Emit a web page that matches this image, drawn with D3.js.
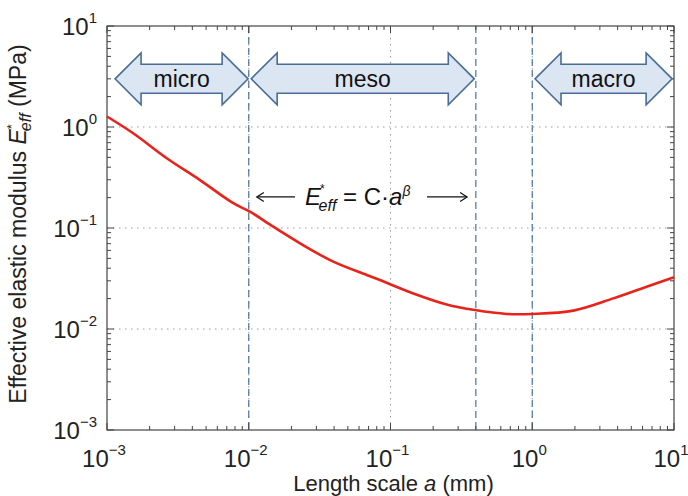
<!DOCTYPE html>
<meta charset="utf-8">
<title>Effective elastic modulus vs length scale</title>
<style>
    body { margin: 0; background: #fff; }
    svg { font-family: "Liberation Sans", Arial, sans-serif; }
</style>
<body>
<script src="https://cdnjs.cloudflare.com/ajax/libs/d3/7.8.5/d3.min.js"></script>
<script>
    // curve: length scale a (mm) -> E*eff (MPa)
    var lengthScale = [0.001, 0.00153, 0.00264, 0.00453, 0.00778, 0.0102, 0.0149, 0.023, 0.0395, 0.0679,
        0.0843, 0.145, 0.249, 0.394, 0.66, 1.0, 1.95, 3.73, 6.41, 10];
    var modulus = [1.27, 0.867, 0.49, 0.298, 0.176, 0.145, 0.103, 0.0706, 0.0464, 0.0343,
        0.0305, 0.0225, 0.0175, 0.0154, 0.0141, 0.0141, 0.0152, 0.0201, 0.0262, 0.0325];

    var decades = [1e-3, 1e-2, 1e-1, 1e0, 1e1];
    var decadeExp = ["\u22123", "\u22122", "\u22121", "0", "1"];
    var scaleNames = ["micro", "meso", "macro"];
    var scaleFrom = [0.00114, 0.0104, 1.046];
    var scaleTo = [0.0099, 0.39, 9.7];
    var boundaries = [0.01, 0.4, 1.0];

    var W = 688, H = 496;
    var m = {left: 107, right: 14, top: 26, bottom: 66};
    var w = W - m.left - m.right, h = H - m.top - m.bottom;

    var svg = d3.select("body").append("svg")
        .attr("width", W)
        .attr("height", H);

    var x = d3.scaleLog().domain([1e-3, 1e1]).range([m.left, m.left + w]);
    var y = d3.scaleLog().domain([1e-3, 1e1]).range([m.top + h, m.top]);

    var minor = [];
    for (var e = -3; e < 1; e++) {
        for (var k = 2; k <= 9; k++) minor.push(k * Math.pow(10, e));
    }

    // dotted grid at each decade
    svg.append("g").selectAll("line")
        .data(decades.slice(1, -1))
        .enter().append("line")
        .attr("x1", function (d) { return x(d); })
        .attr("x2", function (d) { return x(d); })
        .attr("y1", m.top).attr("y2", m.top + h)
        .attr("stroke", "#a09a98").attr("stroke-dasharray", "1.5,4.5");
    svg.append("g").selectAll("line")
        .data(decades.slice(1, -1))
        .enter().append("line")
        .attr("y1", function (d) { return y(d); })
        .attr("y2", function (d) { return y(d); })
        .attr("x1", m.left).attr("x2", m.left + w)
        .attr("stroke", "#a09a98").attr("stroke-dasharray", "1.5,4.5");

    // dashed region boundaries
    svg.append("g").selectAll("line")
        .data(boundaries)
        .enter().append("line")
        .attr("x1", function (d) { return x(d); })
        .attr("x2", function (d) { return x(d); })
        .attr("y1", m.top).attr("y2", m.top + h)
        .attr("stroke", "#4d74a3").attr("stroke-width", 1.2)
        .attr("stroke-dasharray", "7,4");

    // ticks on all four sides (inside)
    function ticks(g, vals, len, horiz) {
        vals.forEach(function (d) {
            if (horiz) {
                g.append("line").attr("x1", x(d)).attr("x2", x(d))
                    .attr("y1", m.top + h).attr("y2", m.top + h - len);
                g.append("line").attr("x1", x(d)).attr("x2", x(d))
                    .attr("y1", m.top).attr("y2", m.top + len);
            } else {
                g.append("line").attr("y1", y(d)).attr("y2", y(d))
                    .attr("x1", m.left).attr("x2", m.left + len);
                g.append("line").attr("y1", y(d)).attr("y2", y(d))
                    .attr("x1", m.left + w).attr("x2", m.left + w - len);
            }
        });
    }
    var tg = svg.append("g").attr("stroke", "#444").attr("stroke-width", 1);
    ticks(tg, minor, 4, true);
    ticks(tg, minor, 4, false);
    ticks(tg, decades, 7, true);
    ticks(tg, decades, 7, false);

    svg.append("rect")
        .attr("x", m.left).attr("y", m.top)
        .attr("width", w).attr("height", h)
        .attr("fill", "none").attr("stroke", "#444").attr("stroke-width", 1.2);

    // block arrows for micro / meso / macro
    var yc = y(3), hl = 26, sh = 14.5, hh = 26;
    function blockArrow(x0, x1) {
        return "M" + x0 + "," + yc +
            "L" + (x0 + hl) + "," + (yc - hh) +
            "L" + (x0 + hl) + "," + (yc - sh) +
            "L" + (x1 - hl) + "," + (yc - sh) +
            "L" + (x1 - hl) + "," + (yc - hh) +
            "L" + x1 + "," + yc +
            "L" + (x1 - hl) + "," + (yc + hh) +
            "L" + (x1 - hl) + "," + (yc + sh) +
            "L" + (x0 + hl) + "," + (yc + sh) +
            "L" + (x0 + hl) + "," + (yc + hh) + "Z";
    }
    var arrows = svg.append("g").selectAll("g")
        .data(scaleNames)
        .enter().append("g");
    arrows.append("path")
        .attr("d", function (d, i) { return blockArrow(x(scaleFrom[i]), x(scaleTo[i])); })
        .attr("fill", "#dbe6f2").attr("stroke", "#4a6d94").attr("stroke-width", 1.6);
    arrows.append("text")
        .attr("x", function (d, i) { return (x(scaleFrom[i]) + x(scaleTo[i])) / 2; })
        .attr("y", yc + 8)
        .attr("text-anchor", "middle")
        .attr("font-size", 23).attr("fill", "#111")
        .text(function (d) { return d; });

    // the curve
    var line = d3.line()
        .x(function (d, i) { return x(lengthScale[i]); })
        .y(function (d) { return y(d); })
        .curve(d3.curveCatmullRom.alpha(0.5));
    svg.append("path")
        .datum(modulus)
        .attr("d", line)
        .attr("fill", "none")
        .attr("stroke", "#e8231b")
        .attr("stroke-width", 2.6);

    // power-law annotation
    var ay = y(0.203);
    var ann = svg.append("g").attr("stroke", "#111").attr("stroke-width", 1.2).attr("fill", "none");
    ann.append("line").attr("x1", x(0.0114)).attr("x2", x(0.0212)).attr("y1", ay).attr("y2", ay);
    ann.append("path").attr("d", "M" + (x(0.0114) + 7) + "," + (ay - 4.5) + "L" + x(0.0114) + "," + ay + "L" + (x(0.0114) + 7) + "," + (ay + 4.5));
    ann.append("line").attr("x1", x(0.181)).attr("x2", x(0.347)).attr("y1", ay).attr("y2", ay);
    ann.append("path").attr("d", "M" + (x(0.347) - 7) + "," + (ay - 4.5) + "L" + x(0.347) + "," + ay + "L" + (x(0.347) - 7) + "," + (ay + 4.5));

    var eq = svg.append("text")
        .attr("x", x(0.0249)).attr("y", ay + 8)
        .attr("font-size", 24).attr("fill", "#111");
    eq.append("tspan").attr("font-style", "italic").text("E");
    eq.append("tspan").attr("font-size", 12).attr("dy", -12).attr("dx", -1).text("*");
    eq.append("tspan").attr("font-size", 16).attr("font-style", "italic").attr("dy", 18).attr("dx", -6).text("eff");
    eq.append("tspan").attr("dy", -6).text(" = C\u00b7");
    eq.append("tspan").attr("font-style", "italic").text("a");
    eq.append("tspan").attr("font-size", 14).attr("font-style", "italic").attr("dy", -9).text("\u03b2");

    // tick labels
    var xl = svg.append("g").selectAll("text")
        .data(decades)
        .enter().append("text")
        .attr("x", function (d) { return x(d) - 3; })
        .attr("y", m.top + h + 37)
        .attr("text-anchor", "middle")
        .attr("font-size", 24).attr("fill", "#222");
    xl.append("tspan").text("10");
    xl.append("tspan").attr("font-size", 15).attr("dy", -12).text(function (d, i) { return decadeExp[i]; });

    var yl = svg.append("g").selectAll("text")
        .data(decades)
        .enter().append("text")
        .attr("x", m.left - 10)
        .attr("y", function (d) { return y(d) + 9; })
        .attr("text-anchor", "end")
        .attr("font-size", 24).attr("fill", "#222");
    yl.append("tspan").text("10");
    yl.append("tspan").attr("font-size", 15).attr("dy", -12).text(function (d, i) { return decadeExp[i]; });

    // axis titles
    var xt = svg.append("text")
        .attr("x", m.left + w / 2 + 3).attr("y", 491)
        .attr("text-anchor", "middle")
        .attr("font-size", 22).attr("fill", "#222");
    xt.append("tspan").text("Length scale ");
    xt.append("tspan").attr("font-style", "italic").text("a");
    xt.append("tspan").text(" (mm)");

    var yt = svg.append("text")
        .attr("transform", "translate(26," + (m.top + h / 2 - 4) + ") rotate(-90)")
        .attr("text-anchor", "middle")
        .attr("font-size", 23).attr("fill", "#222");
    yt.append("tspan").text("Effective elastic modulus ");
    yt.append("tspan").attr("font-style", "italic").text("E");
    yt.append("tspan").attr("font-size", 13).attr("dy", -10).text("*");
    yt.append("tspan").attr("font-size", 16).attr("font-style", "italic").attr("dy", 15).attr("dx", -7).text("eff");
    yt.append("tspan").attr("dy", -5).text(" (MPa)");
</script>
